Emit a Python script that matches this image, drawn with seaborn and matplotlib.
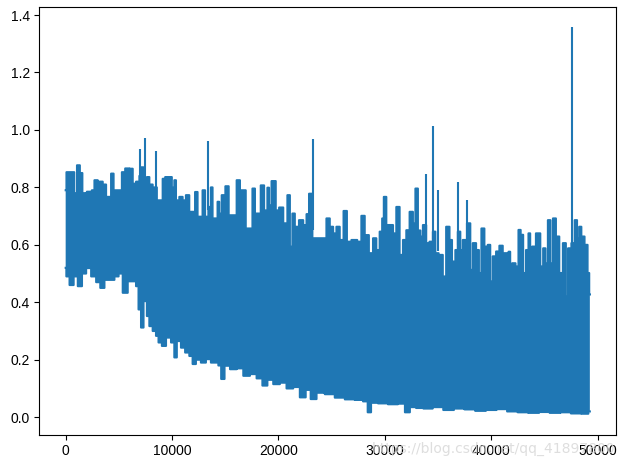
import numpy as np
import pandas as pd
import matplotlib
matplotlib.use("Agg")
import matplotlib.pyplot as plt
import seaborn as sns

_C = "#1f77b4"

# upper edge of the dense loss trace (iteration, loss)
upper_x = [0, 150, 700, 910, 1220, 1450, 1690, 2300, 2630, 2780, 3250, 3720, 3880,
           4190, 4350, 4660, 5130, 5440, 5750, 6230, 6380, 6850, 7010, 7160, 7480,
           7790, 7945, 8415, 8730, 9040, 9200, 9510, 9820, 10140, 10290, 10450,
           10920, 11070, 11540, 11700, 12010, 12320, 12480, 12790, 12950, 13260,
           13570, 13730, 13890, 14200, 14360, 14510, 14830, 15200, 15450, 15920,
           16230, 16540, 16850, 17010, 17480, 17640, 17950, 18260, 18420, 18890,
           19040, 19200, 19510, 19990, 20140, 20770, 20920, 21240, 21390, 21700,
           22170, 22490, 22800, 22960, 23430, 24360, 24670, 24990, 25300, 25610,
           25920, 26330, 26550, 27180, 27640, 27960, 28270, 28740, 29050, 29360,
           29680, 29830, 29990, 30300, 30620, 30930, 31240, 31550, 31870, 32180,
           32490, 32800, 32960, 33270, 33430, 33740, 34050, 34360, 34680, 34830,
           35300, 35610, 35930, 36240, 36400, 36560, 36710, 37020, 37180, 37490,
           37960, 38120, 38430, 38740, 38960, 39210, 39520, 39840, 39990, 40310,
           40620, 40930, 41250, 41560, 41710, 41870, 42090, 42490, 42650, 42900,
           43120, 43430, 43590, 43750, 43960, 44460, 44780, 45000, 45210, 45460,
           45690, 45930, 46250, 46560, 46930, 47120, 47340, 47750, 47960, 48190,
           48370, 48590, 48970, 49160, 49280]
upper_y = [0.79, 0.853, 0.853, 0.78, 0.877, 0.85, 0.78, 0.785, 0.79, 0.825, 0.82, 0.81, 0.767,
           0.767, 0.848, 0.79, 0.79, 0.853, 0.866, 0.865, 0.813, 0.82, 0.84, 0.87, 0.83,
           0.836, 0.81, 0.80, 0.755, 0.755, 0.83, 0.836, 0.836, 0.80, 0.825, 0.755,
           0.767, 0.755, 0.773, 0.715, 0.715, 0.784, 0.698, 0.698, 0.79, 0.698,
           0.732, 0.80, 0.692, 0.692, 0.75, 0.709, 0.773, 0.804, 0.703, 0.703,
           0.825, 0.79, 0.79, 0.657, 0.657, 0.796, 0.709, 0.709, 0.807, 0.72,
           0.799, 0.738, 0.822, 0.72, 0.73, 0.675, 0.773, 0.594, 0.709, 0.663,
           0.686, 0.669, 0.707, 0.778, 0.623, 0.623, 0.692, 0.663, 0.64, 0.663,
           0.617, 0.718, 0.611, 0.617, 0.611, 0.701, 0.634, 0.571, 0.623, 0.582,
           0.646, 0.692, 0.767, 0.669, 0.669, 0.64, 0.732, 0.565, 0.617, 0.651,
           0.715, 0.675, 0.796, 0.65, 0.629, 0.669, 0.606, 0.611, 0.646, 0.571,
           0.565, 0.49, 0.663, 0.617, 0.542, 0.525, 0.582, 0.646, 0.582, 0.617,
           0.675, 0.513, 0.606, 0.582, 0.502, 0.657, 0.594, 0.60, 0.473, 0.56,
           0.577, 0.597, 0.571, 0.571, 0.576, 0.502, 0.536, 0.525, 0.652, 0.635,
           0.502, 0.582, 0.64, 0.479, 0.594, 0.64, 0.525, 0.588, 0.536, 0.686,
           0.536, 0.692, 0.629, 0.502, 0.606, 0.421, 0.588, 0.606, 0.686, 0.623,
           0.663, 0.629, 0.60, 0.502, 0.427]

# lower edge of the trace
lower_x = [0, 130, 600, 900, 1380, 1690, 2160, 2630, 3100, 3410, 3880, 4350, 4820,
           5130, 5600, 6070, 6540, 6690, 7010, 7160, 7480, 7790, 7945, 8415, 8570,
           8890, 9200, 9670, 10140, 10290, 10610, 11070, 11390, 11860, 12010, 12480,
           12950, 13420, 13890, 14200, 14510, 14730, 15140, 15760, 16390, 17010,
           17640, 18260, 18730, 19200, 19830, 20450, 21080, 21700, 22330, 22800,
           23270, 23900, 24830, 25770, 26720, 27640, 28270, 28520, 28900, 29830,
           30770, 31710, 32080, 32640, 33270, 34000, 35000, 36000, 37000, 38000,
           39000, 40000, 41000, 42000, 43000, 44000, 45000, 46000, 47000, 48000,
           49000, 49280]
lower_y = [0.52, 0.49, 0.46, 0.49, 0.456, 0.50, 0.519, 0.49, 0.47, 0.45, 0.478, 0.478, 0.49,
           0.50, 0.433, 0.473, 0.473, 0.456, 0.375, 0.312, 0.404, 0.352, 0.317, 0.30, 0.283,
           0.26, 0.248, 0.277, 0.26, 0.208, 0.265, 0.242, 0.225, 0.213, 0.185, 0.20,
           0.19, 0.202, 0.19, 0.19, 0.18, 0.133, 0.179, 0.167, 0.17, 0.144,
           0.15, 0.135, 0.11, 0.13, 0.115, 0.12, 0.10, 0.105, 0.069, 0.095,
           0.063, 0.085, 0.08, 0.068, 0.062, 0.06, 0.055, 0.017, 0.05, 0.048,
           0.045, 0.047, 0.017, 0.035, 0.032, 0.03, 0.035, 0.025, 0.03, 0.027,
           0.022, 0.025, 0.028, 0.02, 0.017, 0.015, 0.018, 0.015, 0.017, 0.013,
           0.012, 0.02]

# isolated spikes above the band
spike_x = [7010, 7480, 8510, 13420, 23210, 33830, 34520, 35050, 36870, 37740, 47560]
spike_top = [0.934, 0.972, 0.928, 0.96, 0.969, 0.845, 1.015, 0.79, 0.819, 0.755, 1.357]
spike_base = [0.84, 0.83, 0.80, 0.72, 0.65, 0.65, 0.62, 0.58, 0.60, 0.62, 0.60]

xticks = [0, 10000, 20000, 30000, 40000, 50000]
yticks = [0.0, 0.2, 0.4, 0.6, 0.8, 1.0, 1.2, 1.4]

plt.rcParams["font.family"] = ["Liberation Sans", "DejaVu Sans"]
plt.rcParams["font.size"] = 10


def steps(xs, ys):
    # stair outline with the jumps halfway between readings (like steps-mid)
    xs = np.asarray(xs, float)
    ys = np.asarray(ys, float)
    mids = (xs[1:] + xs[:-1]) / 2
    ex = np.concatenate([[xs[0]], np.repeat(mids, 2), [xs[-1]]])
    return ex, np.repeat(ys, 2)


fig = plt.figure(figsize=(6.23, 4.63), dpi=100)
ax = fig.add_axes([0.0634, 0.0611, 0.9254, 0.9238])

ux, uy = steps(upper_x, upper_y)
lx, ly = steps(lower_x, lower_y)
ax.fill(np.concatenate([ux, lx[::-1]]), np.concatenate([uy, ly[::-1]]),
        color=_C, lw=0, snap=False)

up = pd.DataFrame({"iter": upper_x, "loss": upper_y})
lo = pd.DataFrame({"iter": lower_x, "loss": lower_y})
for d in (up, lo):
    sns.lineplot(data=d, x="iter", y="loss", ax=ax, color=_C, lw=1.5,
                 estimator=None, sort=False, drawstyle="steps-mid", snap=False)
ax.vlines(spike_x, spike_base, spike_top, color=_C, lw=1.5)

ax.set_xlim(-2460, 51740)
ax.set_ylim(-0.061, 1.428)
ax.set_xticks(xticks)
ax.set_yticks(yticks)
ax.set_xticklabels([str(t) for t in xticks])
ax.set_yticklabels([f"{t:.1f}" for t in yticks])
ax.set_xlabel("")
ax.set_ylabel("")
for s in ax.spines.values():
    s.set_linewidth(0.8)
    s.set_color("black")

fig.text(0.987, 0.022, "https://blog.csdn.net/qq_41897800", ha="right", va="baseline",
         fontsize=10, color="#d6d6d6", family="DejaVu Sans", alpha=0.8)

fig.savefig("out.png", dpi=100)
